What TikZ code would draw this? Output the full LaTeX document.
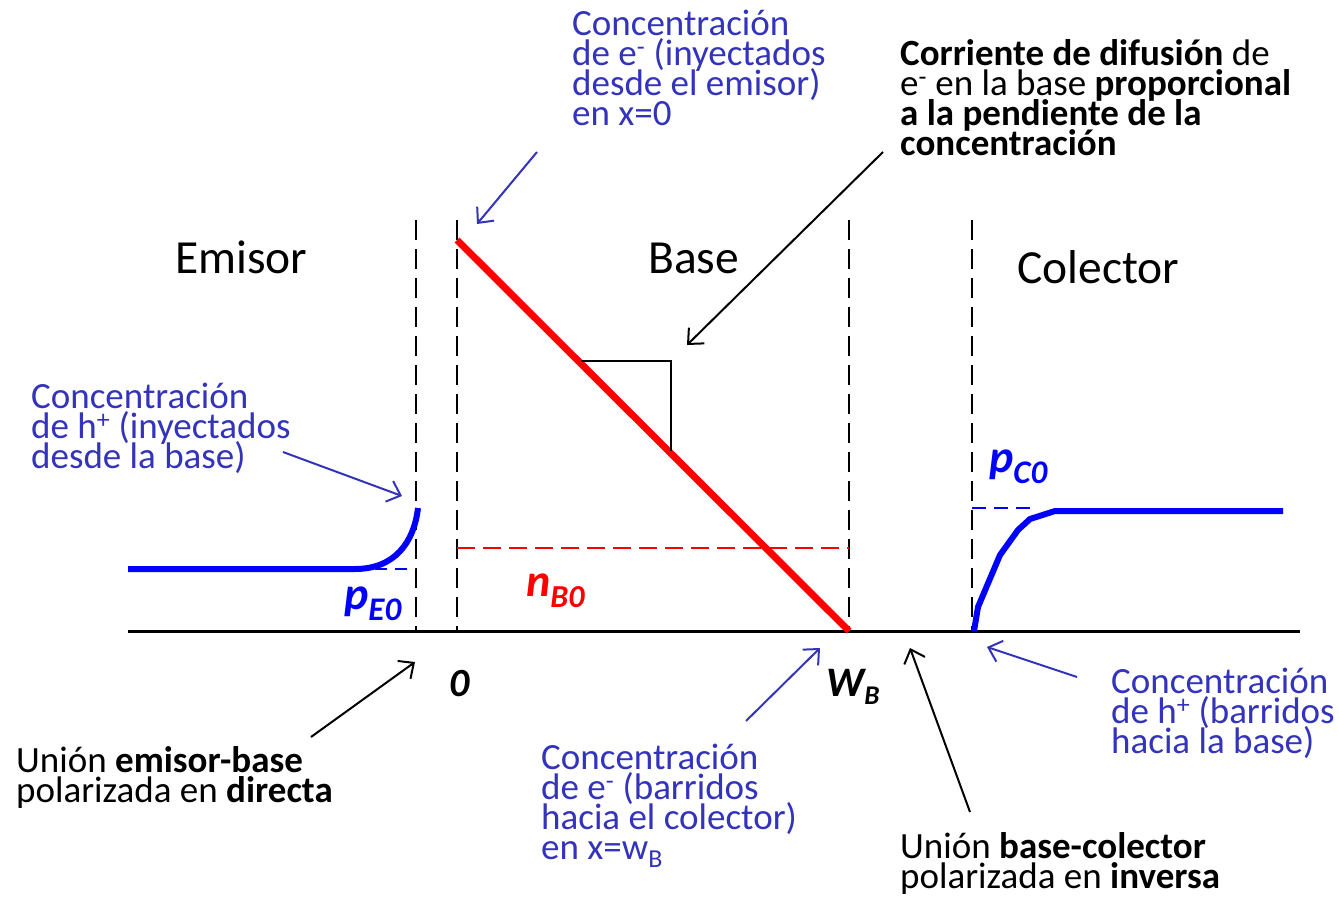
\documentclass[tikz,border=0pt]{standalone}
\usepackage{fontspec}
\setmainfont{Carlito}
\usetikzlibrary{arrows.meta}
\definecolor{tblue}{RGB}{51,51,187}
\newcommand\annfont{\fontsize{37}{30}\selectfont\lineskiplimit=-50pt\relax\lineskip=0pt\relax}
\begin{document}
\begin{tikzpicture}[x=1pt,y=-1pt,
  txt/.style={anchor=base west, align=left, inner sep=0pt, font=\annfont},
  region/.style={anchor=base west, inner sep=0pt, font=\fontsize{47.5}{47.5}\selectfont},
  junc/.style={black, line width=2.5pt, dash pattern=on 20pt off 9pt},
  arr/.style={line width=2pt, -{Straight Barb[length=12pt,width=22pt,line width=2pt]}},
  sym/.style={inner sep=0pt, font=\fontsize{46}{46}\selectfont\bfseries\itshape}]
\useasboundingbox (0,0) rectangle (1339,897);

% axis and junction boundaries
\draw[line width=3pt] (128,631) -- (1300,631);
\draw[junc] (416,220) -- (416,631);
\draw[junc] (457,220) -- (457,631);
\draw[junc] (849,220) -- (849,631);
\draw[junc] (972,220) -- (972,631);

% base electron profile
\draw[red, line width=2pt, dash pattern=on 18pt off 8pt] (457,548) -- (849,548);
\draw[red, line width=7pt] (457,240) -- (849,631);
\draw[line width=2pt] (581,361) -- (671,361) -- (671,451);

% emitter hole profile
\draw[blue, line width=1.5pt, dash pattern=on 12pt off 8pt] (355,569) -- (416,569);
\draw[blue, line width=6pt] (128,569) -- (355,569) .. controls (395,569) and (414,542) .. (418,508);

% collector hole profile
\draw[blue, line width=1.5pt, dash pattern=on 14pt off 8pt] (972,508) -- (1035,508);
\draw[blue, line width=6pt, line join=round] (974,631) -- (978,607) -- (1000,555) -- (1018,530) -- (1030,519) -- (1055,511) -- (1283,511);

% region labels
\node[region] (emisor) at (175,273) {Emisor};
\node[region] (base) at (648,273) {Base};
\node[region] (colector) at (1017,283) {Colector};

% symbols
\node[sym, red, anchor=base west] (nb0) at (526,596) {n\raisebox{-11pt}{\fontsize{32}{32}\selectfont B0}};
\node[sym, blue, anchor=base west] (pe0) at (344,609) {p\raisebox{-11pt}{\fontsize{33}{33}\selectfont E0}};
\node[sym, blue, anchor=base west] (pc0) at (989,472) {p\raisebox{-11pt}{\fontsize{33}{33}\selectfont C0}};
\node[sym, anchor=base west, font=\fontsize{40}{40}\selectfont\bfseries\itshape] (x0) at (449,696) {0};
\node[sym, anchor=base west, font=\fontsize{42}{42}\selectfont\bfseries\itshape] (xw) at (826,696) {W\raisebox{-8pt}{\fontsize{27}{27}\selectfont B}};

% annotations (anchored at the baseline of their last line)
\node[txt, tblue] (t1) at (572,125) {Concentración\\de e\textsuperscript{-} (inyectados\\desde el emisor)\\en x=0};
\node[txt] (t2) at (900,155) {\textbf{Corriente de difusión} de\\e\textsuperscript{-} en la base \textbf{proporcional}\\\textbf{a la pendiente de la}\\\textbf{concentración}};
\node[txt, tblue] (t3) at (31,468) {Concentración\\de h\textsuperscript{+} (inyectados\\desde la base)};
\node[txt] (t4) at (16,802) {Unión \textbf{emisor-base}\\polarizada en \textbf{directa}};
\node[txt, tblue] (t5) at (541,859) {Concentración\\de e\textsuperscript{-} (barridos\\hacia el colector)\\en x=w\textsubscript{B}};
\node[txt, tblue] (t6) at (1111,753) {Concentración\\de h\textsuperscript{+} (barridos\\hacia la base)};
\node[txt] (t7) at (900,888) {Unión \textbf{base-colector}\\polarizada en \textbf{inversa}};

% arrow end points
\coordinate (a1s) at (537,152); \coordinate (a1e) at (477,224);
\coordinate (a2s) at (883,152); \coordinate (a2e) at (687,345);
\coordinate (a3s) at (283,452); \coordinate (a3e) at (402,496);
\coordinate (a4s) at (311,737); \coordinate (a4e) at (415,662);
\coordinate (a5s) at (746,721); \coordinate (a5e) at (820,648);
\coordinate (a6s) at (970,812); \coordinate (a6e) at (910,648);
\coordinate (a7s) at (1077,677); \coordinate (a7e) at (987,647);

\draw[arr, tblue] (a1s) -- (a1e);
\draw[arr] (a2s) -- (a2e);
\draw[arr, tblue] (a3s) -- (a3e);
\draw[arr] (a4s) -- (a4e);
\draw[arr, tblue] (a5s) -- (a5e);
\draw[arr] (a6s) -- (a6e);
\draw[arr, tblue] (a7s) -- (a7e);
\end{tikzpicture}
\end{document}
